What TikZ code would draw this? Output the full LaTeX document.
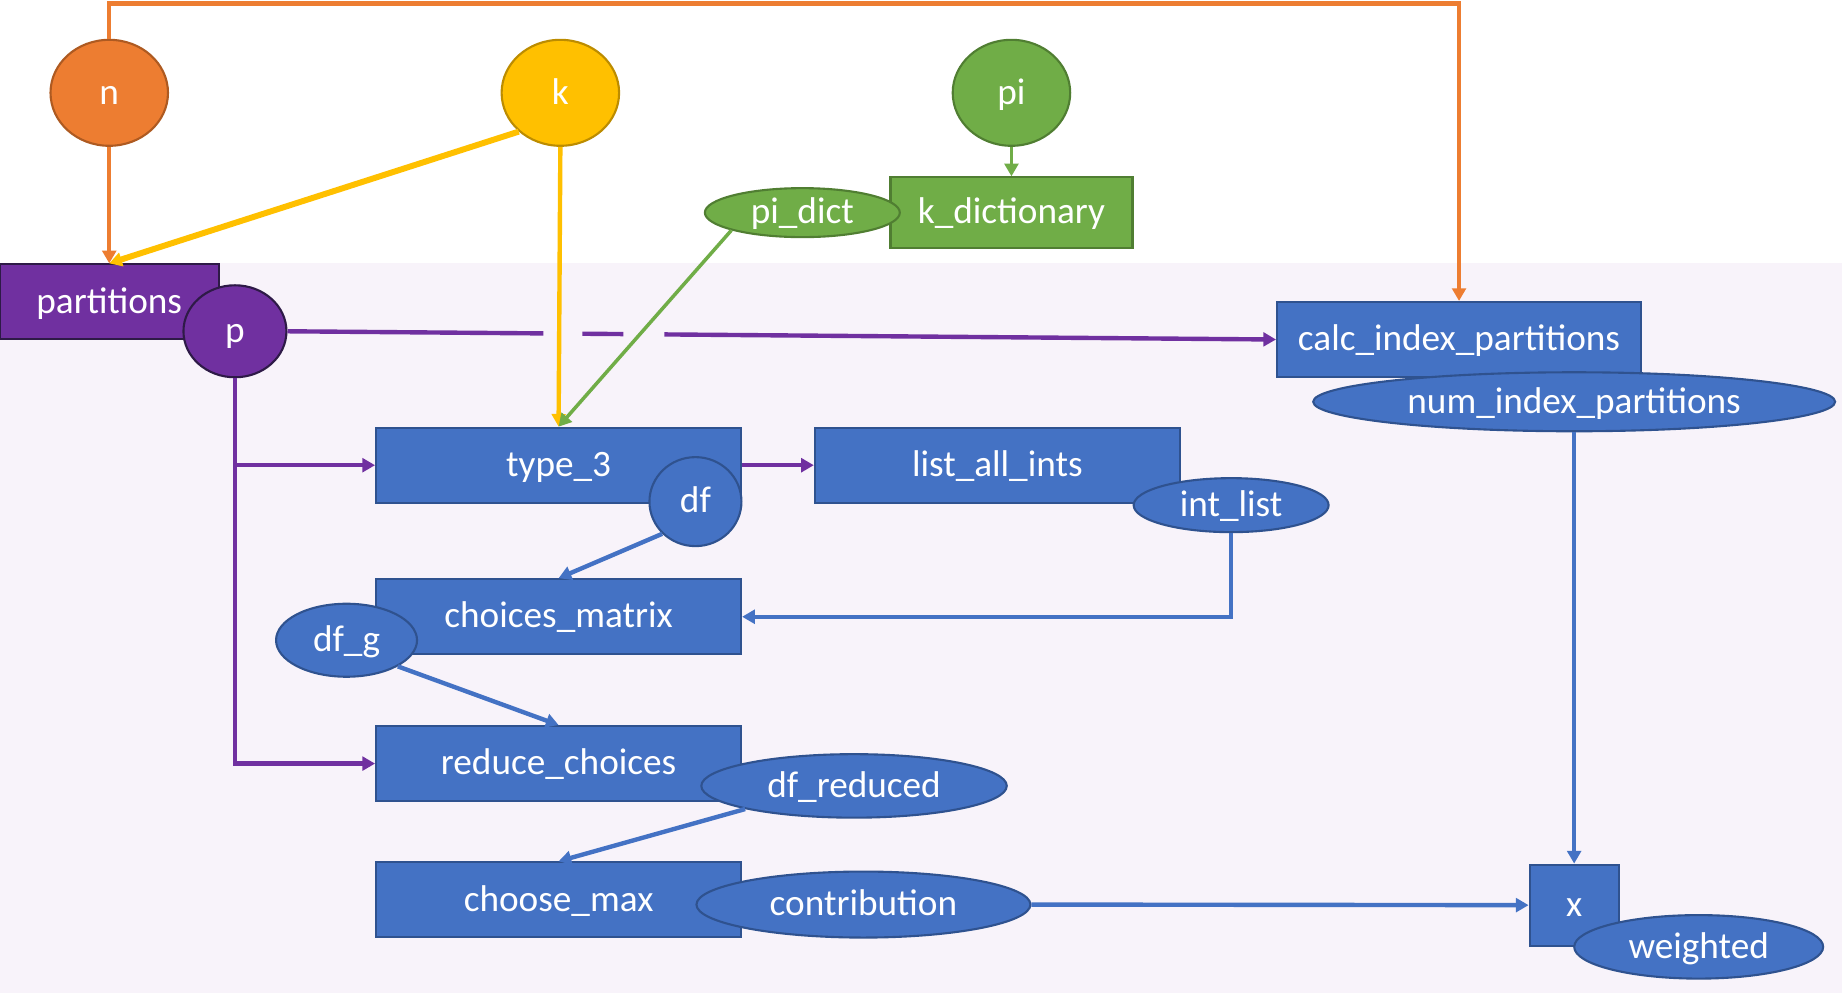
\documentclass[tikz,border=0pt]{standalone}
\usepackage{fontspec}
\setmainfont{Carlito}
\usetikzlibrary{shapes.geometric,arrows.meta}

\definecolor{bgpanel}{RGB}{248,243,250}
\definecolor{blueF}{HTML}{4472C4}
\definecolor{blueD}{HTML}{2F528F}
\definecolor{purpleF}{HTML}{7030A0}
\definecolor{purpleD}{HTML}{2E1A47}
\definecolor{orangeF}{HTML}{ED7D31}
\definecolor{orangeD}{HTML}{AE5A21}
\definecolor{yellowF}{HTML}{FFC000}
\definecolor{yellowD}{HTML}{BC8C00}
\definecolor{greenF}{HTML}{70AD47}
\definecolor{greenD}{HTML}{507E32}

\tikzset{
	base/.style={draw, line width=0.6pt, text=white, inner sep=0pt, text height=0.84em, text depth=0.2em, font=\fontsize{10.6}{12.7}\selectfont},
	fnbox/.style={base, rectangle, minimum width=3.65cm, minimum height=0.75cm},
	blob/.style={base, ellipse, inner ysep=-1.2pt},
	bluenode/.style={fill=blueF, draw=blueD},
	purplenode/.style={fill=purpleF, draw=purpleD},
	orangenode/.style={fill=orangeF, draw=orangeD},
	yellownode/.style={fill=yellowF, draw=yellowD},
	greennode/.style={fill=greenF, draw=greenD},
	link/.style={line width=1.25pt, -{Triangle[length=3.6pt,width=3.9pt]}},
}

\begin{document}
\begin{tikzpicture}[x=0.01175cm, y=-0.01175cm]
	\fill[white] (0,0) rectangle (1568,845.3);
	\fill[bgpanel] (0,224) rectangle (1568,845.3);
	\useasboundingbox (0,0) rectangle (1568,845.3);

	\node[blob, orangenode, minimum width=1.175cm, minimum height=1.06cm] (n) at (93,79) {n};
	\node[blob, yellownode, minimum width=1.175cm, minimum height=1.06cm] (k) at (477,79) {k};
	\node[blob, greennode, minimum width=1.175cm, minimum height=1.06cm] (pi) at (861,79) {pi};

	\node[base, rectangle, greennode, minimum width=2.42cm, minimum height=0.705cm] (kdict) at (861,181) {k\_dictionary};
	\node[blob, greennode, minimum width=1.95cm, minimum height=0.49cm] (pidict) at (683,181) {pi\_dict};

	\node[base, rectangle, purplenode, minimum width=2.19cm, minimum height=0.75cm] (partitions) at (93,257) {partitions};
	\node[blob, purplenode, minimum width=1.03cm, minimum height=0.92cm] (p) at (200,282) {p};

	\node[base, rectangle, bluenode, minimum width=3.64cm, minimum height=0.75cm] (calc) at (1242,289) {calc\_index\_partitions};
	\node[blob, bluenode, minimum width=5.22cm, minimum height=0.59cm] (numidx) at (1340,342) {num\_index\_partitions};

	\node[fnbox, bluenode] (type3) at (475.5,396) {type\_3};
	\node[blob, bluenode, minimum width=0.92cm, minimum height=0.89cm] (df) at (592,427) {df};

	\node[fnbox, bluenode] (listints) at (849,396) {list\_all\_ints};
	\node[blob, bluenode, minimum width=1.95cm, minimum height=0.54cm] (intlist) at (1048,430) {int\_list};

	\node[fnbox, bluenode] (choices) at (475.5,525) {choices\_matrix};
	\node[blob, bluenode, minimum width=1.41cm, minimum height=0.73cm] (dfg) at (295,545) {df\_g};

	\node[fnbox, bluenode] (reduce) at (475.5,650) {reduce\_choices};
	\node[blob, bluenode, minimum width=3.055cm, minimum height=0.635cm] (dfred) at (727,669) {df\_reduced};

	\node[fnbox, bluenode] (choosemax) at (475.5,766) {choose\_max};
	\node[blob, bluenode, minimum width=3.34cm, minimum height=0.66cm] (contrib) at (735,770) {contribution};

	\node[base, rectangle, bluenode, minimum width=0.89cm, minimum height=0.81cm] (x) at (1340,770.5) {x};
	\node[blob, bluenode, minimum width=2.49cm, minimum height=0.635cm] (weighted) at (1446,806) {weighted};

	\coordinate (top) at (0,3);
	\draw[link, orangeF] (n.north) -- (n.north |- top) -- (calc.north |- top) -- (calc.north);
	\draw[link, orangeF] (n.south) -- (partitions.north);
	\draw[link, yellowF, line width=1.7pt] (k.223) -- (partitions.north);
	\draw[link, yellowF] (k.south) -- (type3.north);
	\draw[link, greenF, line width=1pt] (pi.south) -- (kdict.north);
	\draw[link, greenF, line width=1pt] (pidict.194) -- (type3.north);

	\draw[link, purpleF, dash pattern=on 2.56cm off 0.39cm on 0.41cm off 0.41cm on 12cm] (p.east) -- (calc.west);
	\draw[link, purpleF] (p.south) |- (reduce.west);
	\draw[link, purpleF] (p.south |- type3.west) -- (type3.west);
	\draw[link, purpleF] (type3.east) -- (listints.west);

	\draw[link, blueF] (df.south west) -- (choices.north);
	\draw[link, blueF] (intlist.south) |- (choices.east);
	\draw[link, blueF] (dfg.-27) -- (reduce.north);
	\draw[link, blueF] (dfred.192) -- (choosemax.north);
	\draw[link, blueF] (numidx.south) -- (x.north);
	\draw[link, blueF] (contrib.east) -- (x.west);
\end{tikzpicture}
\end{document}
